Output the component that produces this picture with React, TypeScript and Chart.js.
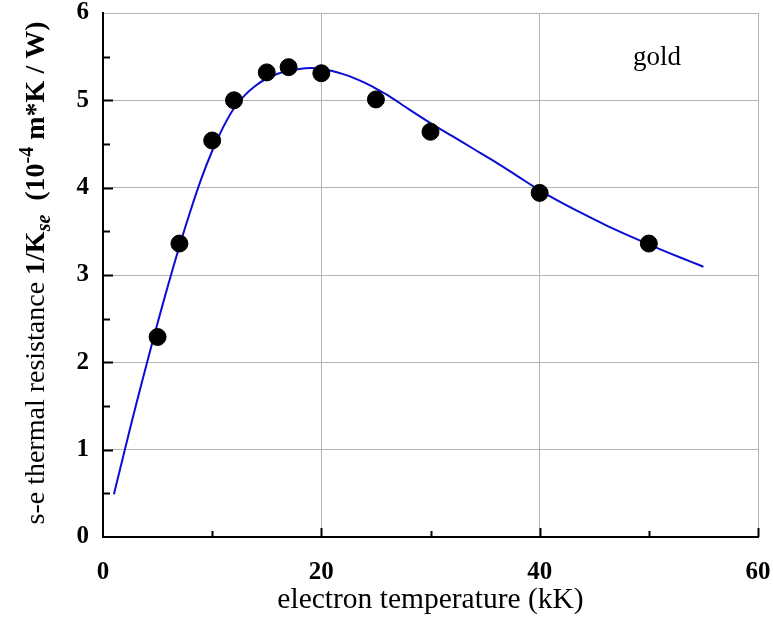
import React, { useEffect, useRef } from "react";
import { Chart, registerables } from "chart.js";

Chart.register(...registerables);

const sampleTemps = [5, 7, 10, 12, 15, 17, 20, 25, 30, 40, 50];
const sampleResist = [2.29, 3.36, 4.54, 5.0, 5.32, 5.38, 5.31, 5.01, 4.64, 3.94, 3.36];

const fitTemps = [1, 2, 3, 4, 5, 6, 7, 8, 9, 10, 11, 12, 13, 14, 15, 16, 17, 18, 19, 20, 21, 22, 23, 24, 25, 26, 28, 30, 32, 34, 36, 38, 40, 42, 44, 46, 48, 50, 52, 54, 55];
const fitResist = [0.49, 1.0, 1.5, 1.98, 2.45, 2.9, 3.33, 3.73, 4.1, 4.42, 4.69, 4.91, 5.06, 5.17, 5.25, 5.305, 5.34, 5.36, 5.37, 5.36, 5.335, 5.3, 5.255, 5.2, 5.135, 5.065, 4.9, 4.74, 4.59, 4.44, 4.29, 4.13, 3.97, 3.83, 3.7, 3.575, 3.46, 3.35, 3.245, 3.145, 3.095];

const xMin = 0, xMax = 60, xStep = 20, xMinorStep = 10;
const yMin = 0, yMax = 6, yStep = 1, yMinorStep = 0.5;

const xTitle = "electron temperature (kK)";
const annotation = "gold";

const SERIF = '"Liberation Serif", "Times New Roman", serif';

const decor = {
  id: "decor",
  afterDraw(chart: any) {
    const { ctx, chartArea, scales } = chart;
    const { left, right, bottom } = chartArea;
    const x = scales.x, y = scales.y;
    ctx.save();
    ctx.strokeStyle = "#000";
    ctx.lineWidth = 2;
    for (let v = yMin + yMinorStep; v < yMax; v += yMinorStep) {
      const py = Math.round(y.getPixelForValue(v)) + 0.5;
      const len = Math.abs(v % yStep) < 1e-6 ? 10 : 7;
      ctx.beginPath();
      ctx.moveTo(left, py);
      ctx.lineTo(left + len, py);
      ctx.stroke();
    }
    for (let v = xMin + xMinorStep; v <= xMax; v += xMinorStep) {
      const px = Math.round(x.getPixelForValue(v)) + 0.5;
      const len = Math.abs(v % xStep) < 1e-6 ? 9 : 6;
      ctx.beginPath();
      ctx.moveTo(px, bottom);
      ctx.lineTo(px, bottom - len);
      ctx.stroke();
    }

    ctx.fillStyle = "#000";
    // x title
    ctx.font = `29.5px ${SERIF}`;
    ctx.textAlign = "center";
    ctx.textBaseline = "alphabetic";
    ctx.fillText(xTitle, (left + right) / 2, 608);

    // annotation
    ctx.textAlign = "left";
    ctx.font = `27px ${SERIF}`;
    ctx.fillText(annotation, 633, 65);

    // y title (rotated, with sub/superscripts)
    const segs = [
      { t: "s-e thermal resistance ", f: `28px ${SERIF}`, dy: 0 },
      { t: "1/K", f: `bold 28px ${SERIF}`, dy: 0 },
      { t: "se", f: `italic bold 20px ${SERIF}`, dy: 6 },
      { t: "  (10", f: `bold 28px ${SERIF}`, dy: 0 },
      { t: "-4", f: `bold 20px ${SERIF}`, dy: -11 },
      { t: " m*K / W)", f: `bold 28px ${SERIF}`, dy: 0 },
    ];
    let total = 0;
    const widths = segs.map((s) => {
      ctx.font = s.f;
      const w = ctx.measureText(s.t).width;
      total += w;
      return w;
    });
    ctx.translate(44, 273);
    ctx.rotate(-Math.PI / 2);
    let cx = -total / 2;
    segs.forEach((s, i) => {
      ctx.font = s.f;
      ctx.fillText(s.t, cx, s.dy);
      cx += widths[i];
    });
    ctx.restore();
  },
};

export default function App() {
  const ref = useRef<HTMLCanvasElement | null>(null);
  useEffect(() => {
    if (!ref.current) return;
    const chart = new Chart(ref.current, {
      type: "scatter",
      data: {
        datasets: [
          {
            label: "measured",
            data: sampleTemps.map((t, i) => ({ x: t, y: sampleResist[i] })),
            backgroundColor: "#000",
            borderColor: "#000",
            pointRadius: 8.5,
            pointHoverRadius: 8.5,
            showLine: false,
          },
          {
            type: "line",
            label: "fit",
            data: fitTemps.map((t, i) => ({ x: t, y: fitResist[i] })),
            borderColor: "#0c0cd4",
            borderWidth: 2,
            pointRadius: 0,
            fill: false,
            tension: 0.3,
          } as any,
        ],
      },
      options: {
        animation: false,
        responsive: false,
        events: [],
        layout: { padding: { left: 0, top: 13, right: 15, bottom: 0 } },
        plugins: { legend: { display: false }, tooltip: { enabled: false } },
        scales: {
          x: {
            type: "linear",
            min: xMin,
            max: xMax,
            afterFit: (s: any) => {
              s.height = 82;
              s.paddingLeft = 0;
              s.paddingRight = 0;
            },
            ticks: {
              stepSize: xStep,
              color: "#000",
              padding: 23,
              font: { family: SERIF, size: 25, weight: "bold", lineHeight: 1 },
            },
            grid: { color: "#b4b4b4", lineWidth: 1, drawTicks: false },
            border: { color: "#000", width: 2 },
          },
          y: {
            type: "linear",
            min: yMin,
            max: yMax,
            afterFit: (s: any) => {
              s.width = 103;
              s.paddingTop = 0;
              s.paddingBottom = 0;
            },
            ticks: {
              stepSize: yStep,
              color: "#000",
              padding: 14,
              font: { family: SERIF, size: 25, weight: "bold", lineHeight: 1 },
            },
            grid: { color: "#b4b4b4", lineWidth: 1, drawTicks: false },
            border: { color: "#000", width: 2 },
          },
        },
      },
      plugins: [decor],
    });
    return () => chart.destroy();
  }, []);
  return (
    <div style={{ position: "fixed", left: 0, top: 0, width: 773, height: 619, background: "#fff" }}>
      <canvas ref={ref} width={773} height={619} style={{ width: 773, height: 619 }} />
    </div>
  );
}
